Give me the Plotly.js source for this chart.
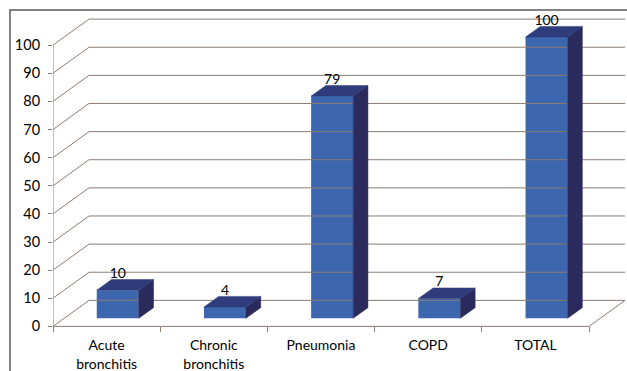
<!DOCTYPE html>
<html>
<head>
<meta charset="utf-8">
<script src="https://cdn.plot.ly/plotly-3.0.1.min.js"></script>
<style>
  html, body { margin: 0; padding: 0; background: #ffffff; }
  #chart { width: 627px; height: 371px; }
</style>
</head>
<body>
<div id="chart"></div>
<script>
// Cases by diagnosis
const categories = ['Acute<br>bronchitis', 'Chronic<br>bronchitis', 'Pneumonia', 'COPD', 'TOTAL'];
const values = [10, 4, 79, 7, 100];
const yTicks = [0, 10, 20, 30, 40, 50, 60, 70, 80, 90, 100];

// Pseudo-3D geometry (in axis units)
const DX = 0.336;   // depth shift of the back wall along x
const DY = 9.25;    // depth shift of the back wall along y
const F1 = 0.31;    // depth fraction of the bar front face
const F2 = 0.72;    // depth fraction of the bar back face
const BAR_W = 0.392;
const X0 = -0.5, XN = categories.length - 0.5;
const XMAX = XN + DX;

const GRID = '#8c7d74';
const FRONT = '#3c66ae';
const SIDE = '#2a2a5c';
const TOP = '#2e3c7b';
const FONT = 'Lato, "Open Sans", sans-serif';

const traces = [];

// back-wall gridlines: diagonal from the front axis, then along the wall
yTicks.forEach(v => {
  traces.push({
    type: 'scatter', mode: 'lines', hoverinfo: 'skip', showlegend: false,
    x: [X0, X0 + DX, XMAX], y: [v, v + DY, v + DY],
    line: { color: GRID, width: 1 }
  });
});
// floor front edge and right floor edge
traces.push({
  type: 'scatter', mode: 'lines', hoverinfo: 'skip', showlegend: false,
  x: [X0, XN, XN + DX], y: [0, 0, DY],
  line: { color: GRID, width: 1 }
});
// vertical value axis line
traces.push({
  type: 'scatter', mode: 'lines', hoverinfo: 'skip', showlegend: false,
  x: [X0, X0], y: [0, yTicks[yTicks.length - 1]],
  line: { color: GRID, width: 1 }
});

const d = F2 - F1;
values.forEach((v, i) => {
  const xl = i + F1 * DX - BAR_W / 2;
  const xr = i + F1 * DX + BAR_W / 2;
  const b = F1 * DY;
  const t = v + F1 * DY;
  // side face
  traces.push({
    type: 'scatter', mode: 'lines', fill: 'toself', hoverinfo: 'skip', showlegend: false,
    x: [xr, xr + d * DX, xr + d * DX, xr, xr],
    y: [b, b + d * DY, t + d * DY, t, b],
    fillcolor: SIDE, line: { color: SIDE, width: 0.5 }
  });
  // top face
  traces.push({
    type: 'scatter', mode: 'lines', fill: 'toself', hoverinfo: 'skip', showlegend: false,
    x: [xl, xr, xr + d * DX, xl + d * DX, xl],
    y: [t, t, t + d * DY, t + d * DY, t],
    fillcolor: TOP, line: { color: TOP, width: 0.5 }
  });
});

// bar front faces
traces.push({
  type: 'bar', showlegend: false, hoverinfo: 'skip',
  x: values.map((v, i) => i + F1 * DX),
  y: values,
  base: values.map(() => F1 * DY),
  width: BAR_W,
  marker: { color: FRONT, line: { width: 0 } }
});

// value labels above each bar
traces.push({
  type: 'scatter', mode: 'text', hoverinfo: 'skip', showlegend: false, cliponaxis: false,
  x: values.map((v, i) => i + F1 * DX),
  y: values.map(v => v + F2 * DY + 1.9),
  text: values.map(String),
  textposition: 'middle center',
  textfont: { family: FONT, size: 14, color: '#000000' }
});

const layout = {
  width: 627, height: 371,
  margin: { l: 53, r: 0, t: 17, b: 39, pad: 0 },
  paper_bgcolor: '#ffffff',
  plot_bgcolor: 'rgba(0,0,0,0)',
  showlegend: false,
  xaxis: {
    range: [X0, X0 + 574 / 107.2],
    anchor: 'free', position: 2 / 112,
    tickvals: categories.map((c, i) => i),
    ticktext: categories,
    ticks: '', showline: false, showgrid: false, zeroline: false,
    ticklabelstandoff: 9,
    tickfont: { family: FONT, size: 14, color: '#000000' },
    minor: {
      tickvals: categories.map((c, i) => i - 0.5).concat([XN]),
      ticks: 'outside', ticklen: 5, tickcolor: GRID, tickwidth: 1, showgrid: false
    },
    fixedrange: true
  },
  yaxis: {
    range: [-2, 110],
    tickvals: yTicks,
    ticks: 'outside', ticklen: 4, tickcolor: GRID, tickwidth: 1,
    showline: false, showgrid: false, zeroline: false,
    ticklabelstandoff: 5,
    tickfont: { family: FONT, size: 14.5, color: '#000000' },
    fixedrange: true
  },
  shapes: [{
    type: 'rect', xref: 'paper', yref: 'paper',
    x0: -0.0749, x1: 1.3, y0: -0.5, y1: 1.0222,
    line: { color: '#5a5a5a', width: 1.5 }, layer: 'below'
  }]
};

Plotly.newPlot('chart', traces, layout, { staticPlot: true, displayModeBar: false });
</script>
</body>
</html>
